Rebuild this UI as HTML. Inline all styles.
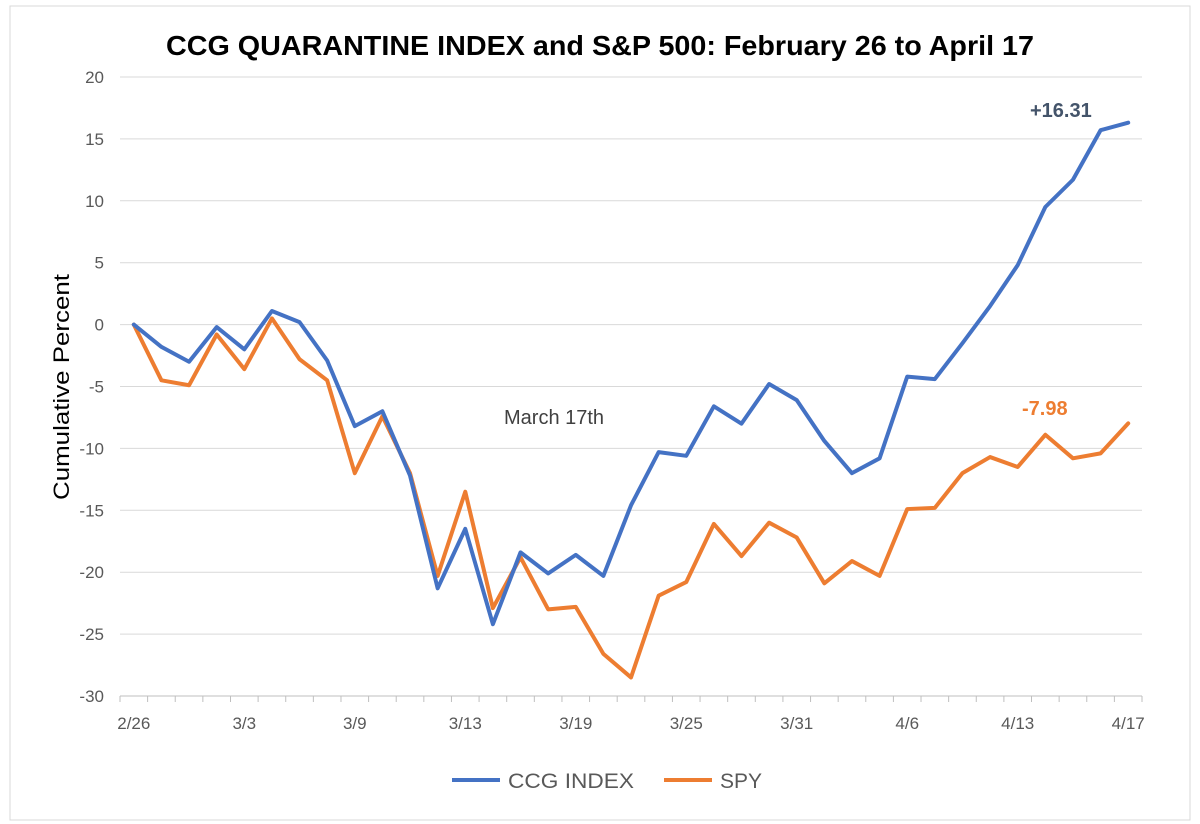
<!DOCTYPE html>
<html><head><meta charset="utf-8"><style>
body{margin:0;background:#fff;font-family:"Liberation Sans",sans-serif}
svg{display:block}
</style></head><body>
<svg width="1200" height="824">
<rect x="10" y="6" width="1180" height="814" fill="#fff" stroke="#d9d9d9"/>
<text x="600" y="55" text-anchor="middle" font-size="28" font-weight="bold" fill="#000" textLength="868" lengthAdjust="spacingAndGlyphs">CCG QUARANTINE INDEX and S&amp;P 500: February 26 to April 17</text>
<g id="grid"></g><g id="yt"></g><g id="xt"></g><g id="series"></g>
<text transform="translate(69,387) rotate(-90)" text-anchor="middle" font-size="22" fill="#000" textLength="226" lengthAdjust="spacingAndGlyphs">Cumulative Percent</text>
<text x="504" y="424" font-size="20" fill="#404040">March 17th</text>
<text x="1030" y="117" font-size="20" font-weight="bold" fill="#44546a">+16.31</text>
<text x="1022" y="415" font-size="20" font-weight="bold" fill="#ed7d31">-7.98</text>
<g>
<line x1="452" y1="780" x2="500" y2="780" stroke="#4472c4" stroke-width="4"/>
<text x="508" y="788" font-size="21" fill="#595959" textLength="126" lengthAdjust="spacingAndGlyphs">CCG INDEX</text>
<line x1="664" y1="780" x2="712" y2="780" stroke="#ed7d31" stroke-width="4"/>
<text x="720" y="788" font-size="21" fill="#595959">SPY</text>
</g>
</svg>
<script>
const categories=["2/26","2/27","2/28","3/2","3/3","3/4","3/5","3/6","3/9","3/10","3/11","3/12","3/13","3/16","3/17","3/18","3/19","3/20","3/23","3/24","3/25","3/26","3/27","3/30","3/31","4/1","4/2","4/3","4/6","4/7","4/8","4/9","4/13","4/14","4/15","4/16","4/17"];
const ccg=[0,-1.8,-3.0,-0.2,-2.0,1.1,0.2,-2.9,-8.2,-7.0,-12.2,-21.3,-16.5,-24.2,-18.4,-20.1,-18.6,-20.3,-14.6,-10.3,-10.6,-6.6,-8.0,-4.8,-6.1,-9.4,-12.0,-10.8,-4.2,-4.4,-1.5,1.5,4.8,9.5,11.7,15.7,16.31];
const spy=[0,-4.5,-4.9,-0.8,-3.6,0.5,-2.8,-4.5,-12.0,-7.4,-12.0,-20.3,-13.5,-22.9,-18.8,-23.0,-22.8,-26.6,-28.5,-21.9,-20.8,-16.1,-18.7,-16.0,-17.2,-20.9,-19.1,-20.3,-14.9,-14.8,-12.0,-10.7,-11.5,-8.9,-10.8,-10.4,-7.98];
const yTicks=[20,15,10,5,0,-5,-10,-15,-20,-25,-30];
const ns="http://www.w3.org/2000/svg";
const L=120,R=1142,T=77,B=696;
const step=(R-L)/categories.length;
const xs=i=>L+step*(i+0.5);
const ys=v=>T+(20-v)*(B-T)/50;
function mk(tag,attrs,parent,txt){const e=document.createElementNS(ns,tag);for(const k in attrs)e.setAttribute(k,attrs[k]);if(txt!==undefined)e.textContent=txt;document.getElementById(parent).appendChild(e);return e;}
yTicks.forEach(v=>{
 const g=mk('line',{x1:L,x2:R,y1:ys(v),y2:ys(v),stroke:v===-30?'#bfbfbf':'#d9d9d9','stroke-width':1},'grid');
 
 
 const t=mk('text',{x:L-16,y:ys(v)+6,'text-anchor':'end','font-size':17,fill:'#595959'},'yt',String(v));
 
 
});
for(let i=0;i<=categories.length;i++){
 const x=L+step*i;
 const tk=mk('line',{x1:x,x2:x,y1:B,y2:B+6,stroke:'#bfbfbf'},'xt');
 
 
}
categories.forEach((c,i)=>{
 if(i%4!==0)return;
 const t=mk('text',{x:xs(i),y:B+33,'text-anchor':'middle','font-size':17,fill:'#595959'},'xt',c);
 
 
});
function line(data,color,name){
 const p=mk('polyline',{points:data.map((v,i)=>xs(i)+','+ys(v)).join(' '),fill:'none',stroke:color,'stroke-width':4,'stroke-linejoin':'round','stroke-linecap':'round'},'series');
 
 
}
line(spy,'#ed7d31','spy-line');
line(ccg,'#4472c4','ccg-index-line');
</script>
</body></html>
